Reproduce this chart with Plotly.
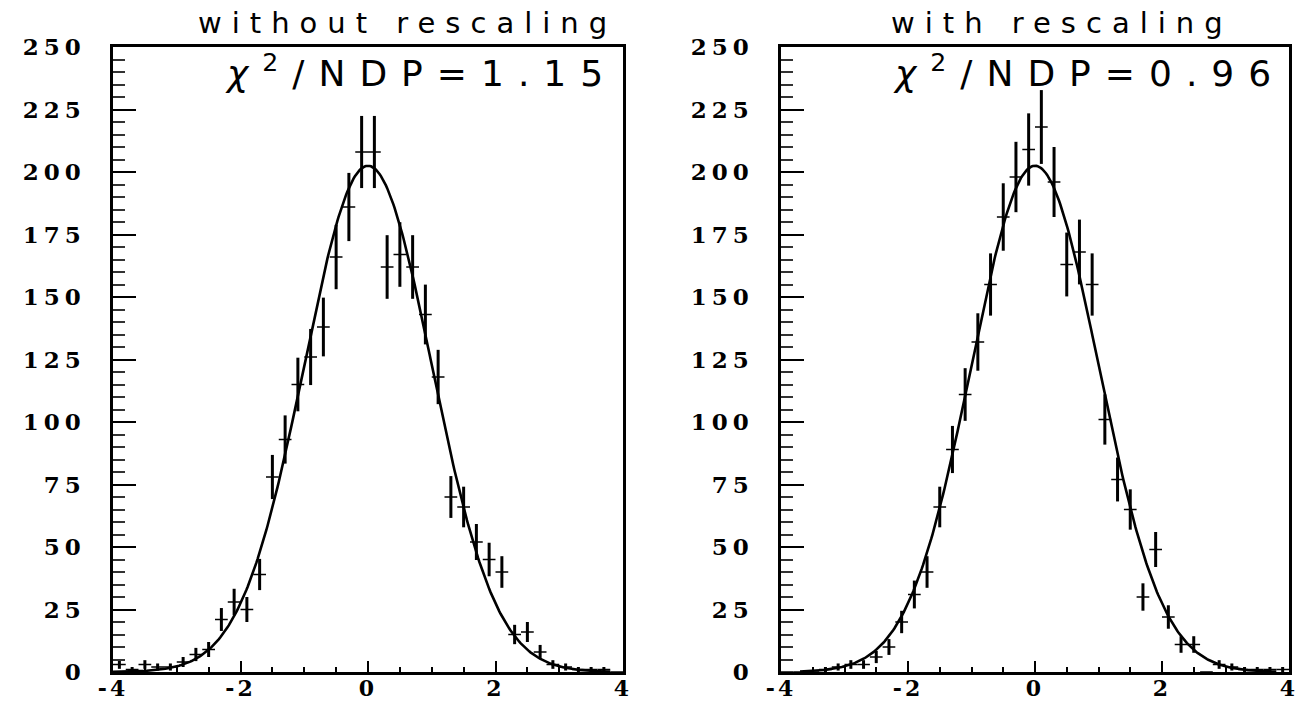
import numpy as np
import plotly.graph_objects as go

# ---------------- data ----------------
bin_centers = [-3.9, -3.7, -3.5, -3.3, -3.1, -2.9, -2.7, -2.5, -2.3, -2.1,
               -1.9, -1.7, -1.5, -1.3, -1.1, -0.9, -0.7, -0.5, -0.3, -0.1,
               0.1, 0.3, 0.5, 0.7, 0.9, 1.1, 1.3, 1.5, 1.7, 1.9,
               2.1, 2.3, 2.5, 2.7, 2.9, 3.1, 3.3, 3.5, 3.7, 3.9]

counts_without = [3, 1, 3, 2, 2, 4, 7, 9, 21, 28,
                  25, 39, 78, 93, 115, 126, 138, 166, 186, 208,
                  208, 162, 167, 162, 143, 118, 70, 66, 52, 45,
                  40, 15, 16, 8, 3, 2, 1, 1, 1, 0]

counts_with = [0, 0, 0, 1, 2, 3, 3, 6, 10, 20,
               31, 40, 66, 89, 111, 132, 155, 182, 198, 209,
               218, 196, 163, 168, 155, 101, 77, 65, 30, 49,
               22, 11, 11, 0, 3, 2, 1, 1, 1, 1]

bin_half_width = 0.1

# Gaussian fit parameters (amplitude, mean, sigma) and fit ranges
fit_without = [202.5, 0.0, 1.0]
fit_with = [202.5, 0.0, 1.0]
fit_range_without = [-4.0, 3.8]
fit_range_with = [-3.7, 3.8]

titles = ["without rescaling", "with rescaling"]
chi2_labels = ["<i>χ</i><sup>2</sup>/NDP=1.15", "<i>χ</i><sup>2</sup>/NDP=0.96"]

x_tickvals = [-4, -2, 0, 2, 4]
x_ticklabels = ["-4", "-2", "0", "2", "4"]
y_tickvals = [0, 25, 50, 75, 100, 125, 150, 175, 200, 225, 250]
y_ticklabels = ["0", "25", "50", "75", "100", "125", "150", "175", "200", "225", "250"]

# ---------------- figure ----------------
W, H = 1303, 702
fig = go.Figure()


def spaced(s, px):
    return '<span style="letter-spacing:%dpx">%s</span>' % (px, s)


def gauss_curve(params, rng):
    a, mu, s = params
    xs = np.linspace(rng[0], rng[1], 400)
    return xs, a * np.exp(-0.5 * ((xs - mu) / s) ** 2)


panels = [
    (counts_without, fit_without, fit_range_without, "x", "y"),
    (counts_with, fit_with, fit_range_with, "x2", "y2"),
]

for counts, fitp, frange, xa, ya in panels:
    fig.add_trace(go.Scatter(
        x=bin_centers, y=counts, mode="markers", xaxis=xa, yaxis=ya,
        marker=dict(size=0.1, color="black", opacity=0),
        error_y=dict(type="sqrt", color="black", thickness=3, width=0),
        error_x=dict(type="constant", value=bin_half_width, color="black",
                     thickness=1.5, width=0),
        showlegend=False, hoverinfo="skip",
    ))
    cx, cy = gauss_curve(fitp, frange)
    fig.add_trace(go.Scatter(
        x=cx, y=cy, mode="lines", xaxis=xa, yaxis=ya,
        line=dict(color="black", width=2.6),
        showlegend=False, hoverinfo="skip",
    ))

tickfont = dict(family="DejaVu Serif", size=23, color="black", weight="bold")
xtickfont = dict(family="DejaVu Serif", size=22, color="black", weight="bold")


def xaxis_cfg(domain, anchor):
    return dict(
        domain=domain, anchor=anchor, range=[-4, 4],
        tickmode="array", tickvals=x_tickvals,
        ticktext=[spaced(t, 3) for t in x_ticklabels],
        ticks="inside", ticklen=11, tickwidth=1.5, tickcolor="black",
        minor=dict(tick0=-4, dtick=0.5, ticks="inside", ticklen=5,
                   tickwidth=1.5, tickcolor="black"),
        showline=True, linecolor="black", linewidth=2.5, mirror=True,
        showgrid=False, zeroline=False, tickfont=xtickfont,
        ticklabelstandoff=-5, fixedrange=True, automargin=False,
    )


def yaxis_cfg(domain, anchor):
    return dict(
        domain=domain, anchor=anchor, range=[0, 250],
        tickmode="array", tickvals=y_tickvals,
        ticktext=[spaced(t, 5) for t in y_ticklabels],
        ticks="inside", ticklen=23, tickwidth=1.5, tickcolor="black",
        minor=dict(tick0=0, dtick=5, ticks="inside", ticklen=12,
                   tickwidth=1.5, tickcolor="#333"),
        showline=True, linecolor="black", linewidth=2.5, mirror=True,
        showgrid=False, zeroline=False, tickfont=tickfont,
        ticklabelstandoff=20, fixedrange=True, automargin=False,
    )


ydom = [1 - 672 / H, 1 - 47 / H]
fig.update_layout(
    width=W, height=H,
    margin=dict(l=0, r=0, t=0, b=0, pad=0, autoexpand=False),
    paper_bgcolor="white", plot_bgcolor="white",
    xaxis=xaxis_cfg([113 / W, 623 / W], "y"),
    yaxis=yaxis_cfg(ydom, "x"),
    xaxis2=xaxis_cfg([781 / W, 1289 / W], "y2"),
    yaxis2=yaxis_cfg(ydom, "x2"),
)

title_font = dict(family="DejaVu Sans", size=29, color="black")
chi_font = dict(family="DejaVu Sans", size=36, color="black")
for cx_px, text in zip([407, 1062], titles):
    fig.add_annotation(x=cx_px / W, y=1 - 23 / H, xref="paper", yref="paper",
                       text=spaced(text, 10), showarrow=False, font=title_font,
                       xanchor="center", yanchor="middle")
for cx_px, text in zip([421, 1089], chi2_labels):
    fig.add_annotation(x=cx_px / W, y=1 - 71 / H, xref="paper", yref="paper",
                       text=spaced(text, 14), showarrow=False, font=chi_font,
                       xanchor="center", yanchor="middle")

fig.write_html("out.html")
